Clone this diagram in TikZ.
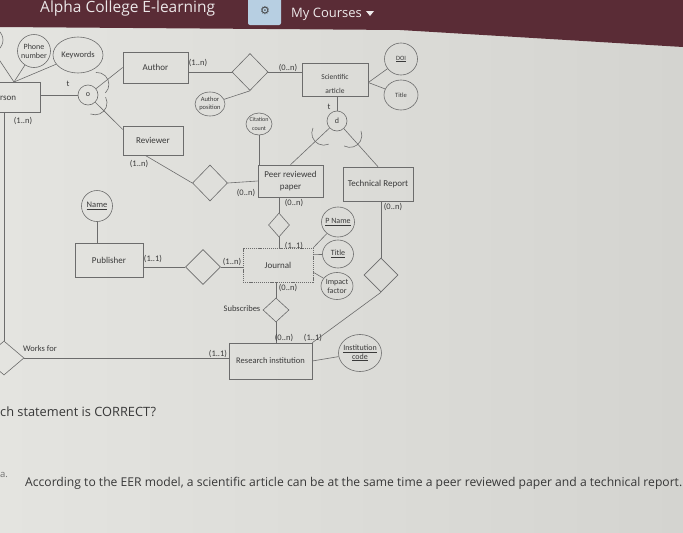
\documentclass[tikz,border=0pt]{standalone}
\usepackage{fontspec}
\setmainfont{Carlito}
\newfontfamily\uifont{Open Sans}
\newfontfamily\symfont{DejaVu Sans}
\usetikzlibrary{shapes.geometric,calc}
\definecolor{lncol}{HTML}{6C6C6C}
\definecolor{txcol}{HTML}{3A3A3A}
\definecolor{barcol}{HTML}{5A2C36}
\definecolor{btncol}{HTML}{B7CFE2}
\definecolor{bgL}{HTML}{E4E4E0}
\definecolor{bgR}{HTML}{D4D4D0}
\definecolor{qcol}{HTML}{383838}
\tikzset{
  con/.style={draw=lncol, line width=0.6pt},
  ent/.style={con, rectangle, inner sep=0pt, align=center, text=txcol, font=\fontsize{9}{12}\selectfont},
  attr/.style={con, ellipse, inner sep=0pt},
  atxt/.style={text=txcol, inner sep=0pt, align=center, font=\fontsize{8}{9}\selectfont},
  atxtsm/.style={atxt, font=\fontsize{6.5}{8}\selectfont},
  rel/.style={con, diamond, inner sep=0pt},
  isa/.style={con, circle, inner sep=0pt, minimum size=20pt, text=txcol, font=\fontsize{8}{9}\selectfont},
  card/.style={text=txcol, inner sep=0pt, font=\fontsize{8.5}{9}\selectfont},
  dotbox/.style={dash pattern=on 1.2pt off 0.9pt},
}
\newcommand{\subarc}[2]{\draw[con] (#1) ++(#2+180:12pt) ++(#2-70:12pt) arc[start angle=#2-70,end angle=#2+70,radius=12pt];}
\begin{document}
\begin{tikzpicture}[x=1pt,y=1pt]
\useasboundingbox (0,0) rectangle (683,-533);
% background
\shade[left color=bgL, right color=bgR] (0,0) rectangle (683,-533);
% header bar
\fill[barcol] (0,0) -- (683,0) -- (683,-47) -- (400,-30) -- (0,-27) -- cycle;
\node[anchor=base west, inner sep=0pt, text=white!88!barcol, font=\uifont\fontsize{15.5}{15}\selectfont] (brand) at (40,-12.5) {Alpha College E-learning};
\fill[btncol, rounded corners=2pt] (248,3) -- (248,-25) -- (281,-25) -- (281,3) -- cycle;
\node[inner sep=0pt, text=black!75, font=\symfont\fontsize{11}{11}\selectfont] (gear) at (265,-11) {⚙};
\node[anchor=west, inner sep=0pt, text=white!90!barcol, font=\uifont\fontsize{13}{13}\selectfont] (courses) at (291,-14) {My Courses};
\fill[white!90!barcol] (366,-11) -- (374,-11) -- (370,-16) -- cycle;

% ---------- entities
\node[ent, minimum width=90pt, minimum height=30pt] (person) at (-5,-97) {};
\node[anchor=west, card, font=\fontsize{9}{10}\selectfont] (persontxt) at (0,-98) {rson};
\node[ent, minimum width=65pt, minimum height=31pt] (author) at (155.5,-67.5) {Author};
\node[ent, minimum width=60pt, minimum height=29pt] (reviewer) at (153,-140.5) {Reviewer};
\node[ent, minimum width=66pt, minimum height=33pt,
      label={[atxt, font=\fontsize{7.5}{14}\selectfont, yshift=-4pt]center:{Scientific\\article}}] (sa) at (335,-79.5) {};
\node[ent, minimum width=65pt, minimum height=32pt] (prp) at (290.5,-181) {Peer reviewed\\paper};
\node[ent, minimum width=70pt, minimum height=34pt] (tr) at (378,-184) {Technical Report};
\node[ent, dotbox, minimum width=70pt, minimum height=34pt] (journal) at (278,-265) {Journal};
\node[ent, minimum width=68pt, minimum height=34pt] (publisher) at (109,-260) {Publisher};
\node[ent, minimum width=83pt, minimum height=36pt, font=\fontsize{8.5}{10}\selectfont] (ri) at (270.5,-361) {Research institution};

% ---------- relationships
\node[rel, minimum width=36pt, minimum height=37pt] (rauth) at (250,-72) {};
\node[rel, minimum width=35pt, minimum height=36pt] (rrev) at (210,-183) {};
\node[rel, minimum width=21pt, minimum height=24pt] (rjp) at (279,-225) {};
\node[rel, minimum width=35pt, minimum height=35pt] (rpub) at (203,-267) {};
\node[rel, minimum width=26pt, minimum height=24pt] (rsub) at (276,-310) {};
\node[rel, minimum width=34pt, minimum height=34pt] (rtr) at (381,-275) {};
\node[rel, minimum width=40pt, minimum height=34pt] (rworks) at (4,-358) {};

% ---------- specialization circles
\node[isa] (ocirc) at (88,-95) {o};
\node[isa] (dcirc) at (337,-121) {d};

% ---------- attributes
\node[attr, minimum width=34pt, minimum height=28pt] (cut) at (-14,-40) {};
\node[attr, minimum width=33pt, minimum height=33pt, label={[atxt]center:{Phone\\number}}] (phone) at (34,-51) {};
\node[attr, minimum width=50pt, minimum height=36pt, label={[atxt, font=\fontsize{8.5}{9}\selectfont]center:{Keywords}}] (keywords) at (78,-55) {};
\node[attr, minimum width=30pt, minimum height=24pt, label={[atxtsm]center:{Author\\position}}] (authpos) at (210,-104) {};
\node[attr, minimum width=26pt, minimum height=22pt, label={[atxtsm, font=\fontsize{6}{9}\selectfont]center:{Citation\\count}}] (citation) at (259,-124) {};
\node[attr, minimum width=33pt, minimum height=32pt, label={[atxtsm]center:{\underline{DOI}}}] (doi) at (401,-59) {};
\node[attr, minimum width=34pt, minimum height=30pt, label={[atxtsm]center:{Title}}] (titlesa) at (401,-95) {};
\node[attr, minimum width=33pt, minimum height=30pt, label={[atxt]center:{\underline{P Name}}}] (pname) at (338,-222) {};
\node[attr, minimum width=31pt, minimum height=28pt, label={[atxt]center:{\underline{Title}}}] (titlej) at (338,-254) {};
\node[attr, minimum width=32pt, minimum height=27pt, label={[atxt]center:{Impact\\factor}}] (impact) at (337,-286) {};
\node[attr, minimum width=31pt, minimum height=31pt, label={[atxt, font=\fontsize{8.5}{9}\selectfont]center:{\underline{Name}}}] (name) at (97,-206) {};
\node[attr, minimum width=43pt, minimum height=37pt, label={[atxt]center:{\underline{Institution}\\\underline{code}}}] (instcode) at (360,-353) {};

% ---------- connectors
\coordinate (ptop) at (14,-82);
\draw[con] (cut) -- (ptop);
\draw[con] (phone) -- (ptop);
\draw[con] (keywords) -- (ptop);
\draw[con] (ocirc.west -| person.east) -- (ocirc.west);
\draw[con] (ocirc) -- (author.west);
\draw[con] (ocirc) -- (reviewer.160);
\subarc{$(ocirc)!0.57!(author.west)$}{25}
\subarc{$(ocirc)!0.46!(reviewer.160)$}{-42}
\draw[con] (rauth.west -| author.east) -- (rauth.west);
\draw[con] (rauth.east) -- (rauth.east -| sa.west);
\draw[con] (rauth.south) -- (authpos);
\coordinate (saE) at ($(sa.east)+(0,-3)$);
\draw[con] (saE) -- (doi);
\draw[con] (saE) -- (titlesa);
\draw[con] (dcirc.north |- sa.south) -- (dcirc.north);
\draw[con] (dcirc) -- (prp.north);
\draw[con] (dcirc) -- (tr.north);
\subarc{$(dcirc)!0.47!(prp.north)$}{-136}
\subarc{$(dcirc)!0.51!(tr.north)$}{-48}
\draw[con] (citation.south) -- (citation.south |- prp.north);
\coordinate (revS) at ($(reviewer.south west)!0.37!(reviewer.south east)$);
\draw[con] (revS) -- (rrev.west);
\draw[con] (rrev.east) -- (prp.west);
\draw[con] (rjp.north |- prp.south) -- (rjp.north);
\draw[con] (rjp.south) -- (rjp.south |- journal.north);
\draw[con] (rpub.west -| publisher.east) -- (rpub.west);
\draw[con] (rpub.east) -- (rpub.east -| journal.west);
\draw[con] (name.south) -- (name.south |- publisher.north);
\draw[con] (rsub.north |- journal.south) -- (rsub.north);
\draw[con] (rsub.south) -- (rsub.south |- ri.north);
\draw[con] (rtr.north |- tr.south) -- (rtr.north);
\draw[con] (rtr.south) -- (ri.north east);
\draw[con] (journal.north east) -- (pname);
\draw[con] ($(journal.north east)+(0,-7)$) -- (titlej);
\draw[con] ($(journal.south east)+(0,10)$) -- (impact);
\draw[con] (ri.east) -- (instcode);
\draw[con] (rworks.north |- person.south) -- (rworks.north);
\draw[con] (rworks.east) -- (rworks.east -| ri.west);

% ---------- cardinalities and labels
\node[card] (c1) at (23,-121) {(1..n)};
\node[card] (c2) at (198,-63) {(1..n)};
\node[card] (c3) at (288,-68) {(0..n)};
\node[card] (c4) at (139,-164) {(1..n)};
\node[card] (c5) at (246,-193) {(0..n)};
\node[card] (c6) at (294,-203) {(0..n)};
\node[card] (c7) at (294,-246) {(1..1)};
\node[card] (c8) at (232,-262) {(1..n)};
\node[card] (c9) at (153,-259) {(1..1)};
\node[card] (c10) at (288,-288) {(0..n)};
\node[card] (c11) at (284,-338) {(0..n)};
\node[card] (c12) at (313,-338) {(1..1)};
\node[card] (c13) at (218,-354) {(1..1)};
\node[card] (c14) at (393,-207) {(0..n)};
\node[card] (t1) at (68,-84) {t};
\node[card] (t2) at (329,-107) {t};
\node[card] (subs) at (242,-309) {Subscribes};
\node[card] (works) at (40,-349) {Works for};

% ---------- question
\node[anchor=base west, inner sep=0pt, text=qcol, font=\uifont\fontsize{12.8}{12}\selectfont] (q) at (0,-416) {ch statement is CORRECT?};
\node[anchor=base west, inner sep=0pt, text=black!55, font=\uifont\fontsize{9.5}{10}\selectfont] (alab) at (0,-477) {a.};
\node[anchor=base west, inner sep=0pt, text=qcol, font=\uifont\fontsize{12}{12}\selectfont] (ans) at (25,-486) {\resizebox{657pt}{!}{According to the EER model, a scientific article can be at the same time a peer reviewed paper and a technical report.}};
\end{tikzpicture}
\end{document}
